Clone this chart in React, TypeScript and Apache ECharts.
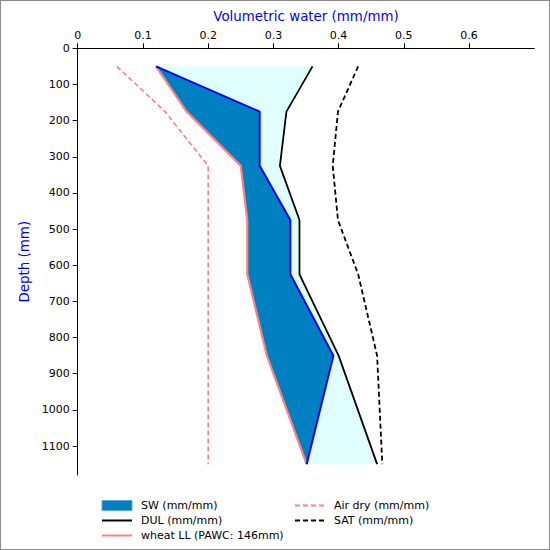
import React, { useEffect, useRef } from "react";
import * as echarts from "echarts";

// layer mid-point depths (mm)
const depths = [50, 175, 325, 475, 625, 850, 1150];
const sw = [0.12, 0.279, 0.279, 0.326, 0.326, 0.392, 0.351];
const dul = [0.36, 0.32, 0.31, 0.34, 0.34, 0.4, 0.459];
const sat = [0.43, 0.399, 0.391, 0.399, 0.43, 0.459, 0.467];
const airDry = [0.06, 0.134, 0.2, 0.2, 0.2, 0.2, 0.2];
const wheatLL = [0.12, 0.167, 0.25, 0.26, 0.26, 0.29, 0.351];

const xTicks = [0, 0.1, 0.2, 0.3, 0.4, 0.5, 0.6];
const yTicks = [0, 100, 200, 300, 400, 500, 600, 700, 800, 900, 1000, 1100];

const FONT = "DejaVu Sans";

const pairs = (vals: number[]) => vals.map((v, i) => [v, depths[i]]);

// polygon between two profiles: a top-down, b bottom-up
const band = (a: number[], b: number[]) =>
  pairs(a).concat(pairs(b).reverse());

const App: React.FC = () => {
  const chartRef = useRef<HTMLDivElement>(null);

  useEffect(() => {
    if (!chartRef.current) return;
    const chart = echarts.init(chartRef.current, undefined, { renderer: "svg" });

    const polySeries = (name: string, pts: number[][], fill: string) => ({
      name,
      type: "custom",
      data: [0],
      itemStyle: { color: fill },
      renderItem: (_params: any, api: any) => ({
        type: "polygon",
        shape: { points: pts.map((p) => api.coord(p)) },
        style: { fill },
      }),
    });

    const lineSeries = (
      name: string,
      vals: number[],
      color: string,
      width: number,
      dash?: number[]
    ) => ({
      name,
      type: "line",
      data: pairs(vals),
      symbol: "none",
      lineStyle: { color, width, type: dash || "solid" },
      itemStyle: { color },
    });

    const legendText = { fontSize: 11, color: "#000", fontFamily: FONT };

    const option = {
      animation: false,
      textStyle: { fontFamily: FONT },
      grid: { left: 76.7, top: 47.3, right: 14.7, bottom: 74 },
      xAxis: {
        type: "value",
        position: "top",
        min: 0,
        max: 0.7,
        interval: 0.1,
        name: "Volumetric water (mm/mm)",
        nameLocation: "middle",
        nameGap: 25,
        nameTextStyle: { color: "#0000ff", fontSize: 13.4, fontFamily: FONT },
        axisLine: { lineStyle: { color: "#000", width: 1 } },
        axisTick: { length: 5, lineStyle: { color: "#000" }, customValues: xTicks },
        axisLabel: {
          color: "#000",
          fontSize: 11,
          margin: 7,
          customValues: xTicks,
          formatter: (v: number) => String(v),
        },
        splitLine: { show: false },
      },
      yAxis: {
        type: "value",
        inverse: true,
        min: 0,
        max: 1180,
        interval: 100,
        name: "Depth (mm)",
        nameLocation: "middle",
        nameGap: 44,
        nameTextStyle: { color: "#0000ff", fontSize: 13.4, fontFamily: FONT },
        axisLine: { show: true, lineStyle: { color: "#000", width: 1 } },
        axisTick: { show: true, length: 5, lineStyle: { color: "#000" }, customValues: yTicks },
        axisLabel: {
          color: "#000",
          fontSize: 11,
          margin: 8,
          customValues: yTicks,
          formatter: (v: number) => String(v),
        },
        splitLine: { show: false },
      },
      legend: [
        {
          orient: "vertical",
          left: 100,
          top: 499,
          padding: 0,
          itemWidth: 30,
          itemHeight: 10,
          itemGap: 4,
          itemStyle: { opacity: 0 },
          textStyle: { ...legendText, padding: [0, 0, 0, 4] },
          data: [
            {
              name: "SW (mm/mm)",
              icon: "rect",
              itemStyle: { color: "#0080c0", borderColor: "#5aa9e6", borderWidth: 1, opacity: 1 },
            },
            { name: "DUL (mm/mm)" },
            { name: "wheat LL (PAWC: 146mm)" },
          ],
        },
        {
          orient: "vertical",
          left: 293,
          top: 499,
          padding: 0,
          itemWidth: 32,
          itemHeight: 10,
          itemGap: 4,
          itemStyle: { opacity: 0 },
          textStyle: { ...legendText, padding: [0, 0, 0, 2] },
          data: [{ name: "Air dry (mm/mm)" }, { name: "SAT (mm/mm)" }],
        },
      ],
      series: [
        polySeries("gap", band(sw, dul), "#e0ffff"),
        polySeries("SW (mm/mm)", band(wheatLL, sw), "#0080c0"),
        lineSeries("Air dry (mm/mm)", airDry, "#ff8080", 1.6, [5, 3]),
        lineSeries("wheat LL (PAWC: 146mm)", wheatLL, "#ff8080", 2.2),
        lineSeries("DUL (mm/mm)", dul, "#000000", 1.8),
        lineSeries("SAT (mm/mm)", sat, "#000000", 1.8, [5, 3]),
        lineSeries("SW line", sw, "#0000ff", 2),
      ],
    };

    chart.setOption(option as any);
    return () => chart.dispose();
  }, []);

  return (
    <div
      style={{
        position: "fixed",
        left: 0,
        top: 0,
        width: 550,
        height: 550,
        boxSizing: "border-box",
        border: "1px solid #8a8a8a",
        background: "#fff",
      }}
    >
      <div ref={chartRef} style={{ width: 548, height: 548 }} />
    </div>
  );
};

export default App;
